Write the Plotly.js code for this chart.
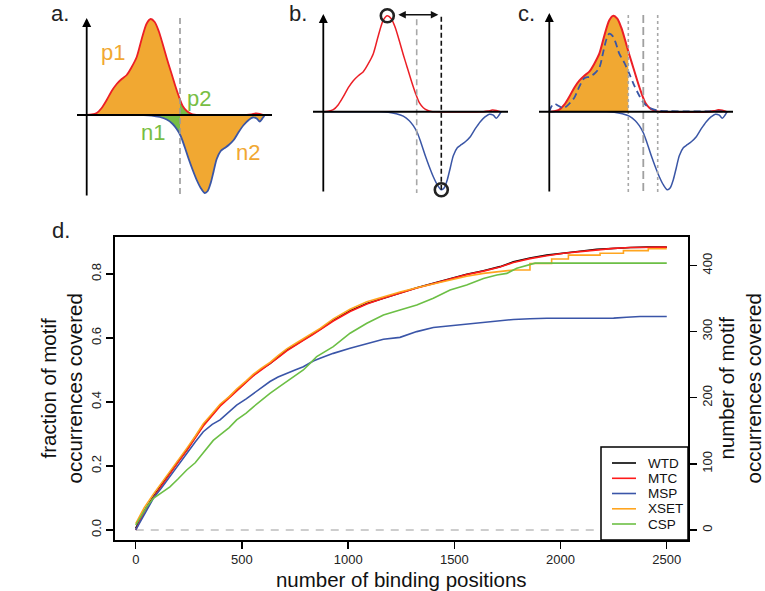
<!DOCTYPE html>
<html><head><meta charset="utf-8">
<script src="https://cdn.plot.ly/plotly-3.0.1.min.js"></script>
<style>html,body{margin:0;padding:0;background:#fff}#chart{width:765px;height:591px}</style>
</head><body><div id="chart"></div>
<script>
// ---------- panels a-c : schematic read-count profiles (units: px-like) ----------
const schemRedX  = [0,5,10,15,20,25,30,35,40,45,50,55,60,64,68,72,76,80,84,88,92,96,100,104,108,112,160,165,169,173,177];
const schemRedY  = [0,0.5,2,7,15,24,31,36,40,48,58,76,91.5,96,93,84,71,57,44,31,19,9,4,1.5,0.3,0,0,0.6,1.6,1.2,0];
const schemBlueX = [0,50,57,65,73,80,86,90,94,98,102,106,110,114,118,121,124,127,130,134,138,142,147,152,157,162,166,170,173,176,178];
const schemBlueY = [0,0,0,-0.5,-2,-4.5,-9,-14,-21,-32,-44,-55,-65,-73,-78,-76,-68,-56,-44,-36,-33,-30,-25,-17,-10,-5,-2.5,-3.5,-6.5,-3,0];
const schemPredX = [0,2,5,9,14,20,25,30,35,40,45,50,54,57,60,63,66,70,75,80,85,90,95,100,105,110,120,140,160,175];
const schemPredY = [0,5,8,6,3.5,8,14,25,33.5,35,38,44,60,72,78,76,70,58,49,38,26,16,8,4,2,1,0.5,0.3,0.3,0.3];
const cutA = [93.3];
const cutB = [93.4];
const cutC = [79, 94, 108.4];

// ---------- panel d : coverage curves ----------
const seriesNames = ['WTD','MTC','MSP','XSET','CSP'];
const wtdX = [0,40,83,120,161,200,240,280,318,360,397,440,475,520,554,590,632,670,711,750,789,830,868,930,1009,1088,1166,1244,1323,1401,1480,1558,1637,1715,1778,1856,1935,2014,2092,2170,2249,2330,2406,2500];
const wtdY = [0.005,0.06,0.104,0.14,0.177,0.215,0.25,0.29,0.328,0.36,0.39,0.415,0.437,0.463,0.484,0.502,0.52,0.54,0.562,0.578,0.594,0.61,0.627,0.655,0.685,0.708,0.725,0.742,0.757,0.771,0.786,0.799,0.81,0.823,0.838,0.85,0.859,0.866,0.871,0.877,0.881,0.883,0.884,0.884];
const mtcX = wtdX;
const mtcY = [0.0,0.058,0.102,0.138,0.176,0.212,0.248,0.287,0.325,0.358,0.387,0.413,0.435,0.461,0.482,0.5,0.519,0.539,0.56,0.577,0.593,0.609,0.625,0.653,0.683,0.706,0.724,0.741,0.756,0.77,0.785,0.798,0.809,0.822,0.836,0.848,0.857,0.865,0.87,0.876,0.88,0.883,0.884,0.884];
const mspX = [0,40,83,120,161,200,240,280,318,360,397,440,475,520,554,590,632,670,711,750,789,836,868,930,1009,1088,1166,1244,1323,1401,1480,1558,1637,1715,1778,1856,1935,2092,2250,2311,2374,2500];
const mspY = [0.0,0.05,0.099,0.13,0.167,0.205,0.24,0.275,0.307,0.33,0.344,0.37,0.39,0.41,0.427,0.445,0.464,0.478,0.49,0.5,0.51,0.528,0.537,0.552,0.568,0.583,0.596,0.602,0.62,0.633,0.638,0.644,0.65,0.654,0.658,0.66,0.6615,0.6615,0.662,0.665,0.667,0.667];
const xsetX = [0,40,83,120,161,200,240,280,318,360,397,440,475,520,554,590,632,670,711,750,789,830,868,930,1009,1088,1166,1244,1323,1401,1480,1558,1637,1715,1778,1856,1856,1958,1958,2037,2037,2186,2186,2296,2296,2413,2413,2500];
const xsetY = [0.02,0.07,0.112,0.145,0.182,0.22,0.255,0.293,0.332,0.364,0.393,0.417,0.44,0.466,0.487,0.505,0.524,0.545,0.566,0.582,0.597,0.614,0.63,0.66,0.69,0.713,0.729,0.744,0.757,0.769,0.781,0.793,0.802,0.808,0.8125,0.8125,0.833,0.833,0.847,0.847,0.859,0.859,0.865,0.865,0.873,0.873,0.879,0.879];
const cspX = [0,25,52,83,130,161,200,240,280,318,365,397,440,475,520,554,590,632,670,711,750,789,836,852,930,1009,1088,1166,1244,1323,1401,1480,1558,1637,1700,1747,1794,1856,1880,2500];
const cspY = [0.015,0.045,0.073,0.099,0.12,0.135,0.16,0.1875,0.21,0.24,0.28,0.297,0.32,0.344,0.365,0.385,0.405,0.427,0.445,0.464,0.48,0.5,0.531,0.542,0.573,0.615,0.646,0.672,0.6875,0.703,0.724,0.75,0.766,0.786,0.797,0.802,0.818,0.831,0.834,0.834];
const xTicks = [0,500,1000,1500,2000,2500];
const yTicks = [0,0.2,0.4,0.6,0.8];
const yTickText = ['0.0','0.2','0.4','0.6','0.8'];
const y2Ticks = [0,100,200,300,400];
const totalMotifs = 484;

// ---------- styling ----------
const W = 765, H = 591;
const FONT = 'Liberation Sans, Arial, Helvetica, sans-serif';
const C = {red:'#EC1F26', blue:'#3A56A6', orange:'#F1A832', green:'#78BE43', gray:'#9A9A9A'};
const lineCols = ['#000000','#FF1A1A','#3A55A8','#FFA51F','#6CBF45'];
const px = v => v / W, py = v => 1 - v / H;

function yAt(xs, ys, x){
  for (let i = 1; i < xs.length; i++) if (x <= xs[i]) { const t = (x - xs[i-1]) / (xs[i] - xs[i-1]); return ys[i-1] + t * (ys[i] - ys[i-1]); }
  return ys[ys.length-1];
}
function clip(xs, ys, lo, hi){
  const a = Math.max(lo, xs[0]), b = Math.min(hi, xs[xs.length-1]);
  const ox = [a], oy = [yAt(xs, ys, a)];
  xs.forEach((x, i) => { if (x > a && x < b) { ox.push(x); oy.push(ys[i]); } });
  ox.push(b); oy.push(yAt(xs, ys, b));
  return {x: ox, y: oy};
}
function fillTrace(seg, color, xa, ya){
  return {x: seg.x, y: seg.y, xaxis: xa, yaxis: ya, type: 'scatter', mode: 'lines', fill: 'tozeroy',
          fillcolor: color, line: {width: 0, shape: 'spline', smoothing: 0.8}, hoverinfo: 'skip'};
}
function curve(xs, ys, color, xa, ya, dash, w){
  return {x: xs, y: ys, xaxis: xa, yaxis: ya, type: 'scatter', mode: 'lines',
          line: {color: color, width: w || 1.8, shape: 'spline', smoothing: 0.8, dash: dash || 'solid'}, hoverinfo: 'skip'};
}

const traces = [];
const shapes = [];
const annotations = [];

// panel geometry: origin px (axis crossing) per panel
const panels = [
  {xa: 'x2', ya: 'y3', ox: 86.7, oy: 115, x0: 70, x1: 280, yTop: 97, yBot: -82, xl: -9.7, xr: 185.3},
  {xa: 'x3', ya: 'y4', ox: 323.3, oy: 111.7, x0: 300, x1: 515, yTop: 97.7, yBot: -81.3, xl: -10.3, xr: 184.7},
  {xa: 'x4', ya: 'y5', ox: 549.3, oy: 111.7, x0: 530, x1: 745, yTop: 98.7, yBot: -81.3, xl: -10.3, xr: 183.7}
];
const layoutAxes = {};
panels.forEach((p, i) => {
  const xn = 'xaxis' + (i + 2), yn = 'yaxis' + (i + 3);
  layoutAxes[xn] = {domain: [px(p.x0), px(p.x1)], range: [p.x0 - p.ox, p.x1 - p.ox], visible: false, anchor: p.ya, fixedrange: true};
  layoutAxes[yn] = {domain: [py(205), py(5)], range: [p.oy - 205, p.oy - 5], visible: false, anchor: p.xa, fixedrange: true};
});

// --- panel a ---
{
  const p = panels[0], c = cutA[0];
  traces.push(fillTrace(clip(schemRedX, schemRedY, -1e9, c), C.orange, p.xa, p.ya));
  traces.push(fillTrace(clip(schemRedX, schemRedY, c, 120), C.green, p.xa, p.ya));
  traces.push(fillTrace(clip(schemBlueX, schemBlueY, 40, c), C.green, p.xa, p.ya));
  traces.push(fillTrace(clip(schemBlueX, schemBlueY, c, 1e9), C.orange, p.xa, p.ya));
  traces.push(curve(schemRedX, schemRedY, C.red, p.xa, p.ya));
  traces.push(curve(schemBlueX, schemBlueY, C.blue, p.xa, p.ya));
  shapes.push({type: 'line', xref: p.xa, yref: p.ya, x0: c, x1: c, y0: p.yTop, y1: p.yBot, line: {color: C.gray, width: 1.6, dash: '6px,4px'}});
  const lab = (t, x, y, col) => annotations.push({xref: p.xa, yref: p.ya, x: x, y: y, text: t, showarrow: false, font: {family: FONT, size: 22, color: col}});
  lab('p1', 26.7, 62, C.orange); lab('p2', 112.5, 16, C.green); lab('n1', 66.7, -18, C.green); lab('n2', 161, -38, C.orange);
}
// --- panel b ---
{
  const p = panels[1];
  traces.push(curve(schemRedX, schemRedY, C.red, p.xa, p.ya, 'solid', 1.5));
  traces.push(curve(schemBlueX, schemBlueY, C.blue, p.xa, p.ya, 'solid', 1.5));
  const iMax = schemRedY.indexOf(Math.max(...schemRedY));
  const iMin = schemBlueY.indexOf(Math.min(...schemBlueY));
  const pkx = schemRedX[iMax], pky = schemRedY[iMax], mnx = schemBlueX[iMin], mny = schemBlueY[iMin];
  const r = 6.5;
  shapes.push({type: 'line', xref: p.xa, yref: p.ya, x0: cutB[0], x1: cutB[0], y0: 92.4, y1: p.yBot, line: {color: '#A8A8A8', width: 1.6, dash: '6px,4px'}});
  shapes.push({type: 'line', xref: p.xa, yref: p.ya, x0: mnx, x1: mnx, y0: mny, y1: pky + 1, line: {color: '#111', width: 1.6, dash: '5px,3px'}});
  shapes.push({type: 'circle', xref: p.xa, yref: p.ya, x0: pkx - r, x1: pkx + r, y0: pky - r, y1: pky + r, line: {color: '#222', width: 2.6}});
  shapes.push({type: 'circle', xref: p.xa, yref: p.ya, x0: mnx - r, x1: mnx + r, y0: mny - r, y1: mny + r, line: {color: '#222', width: 2.6}});
  annotations.push({xref: p.xa, yref: p.ya, axref: p.xa, ayref: p.ya, x: mnx - 3, y: pky + 1, ax: pkx + r + 3, ay: pky + 1,
    text: '', showarrow: true, arrowhead: 2, startarrowhead: 2, arrowside: 'end+start', arrowsize: 1, arrowwidth: 1.5, arrowcolor: '#111'});
}
// --- panel c ---
{
  const p = panels[2];
  traces.push(fillTrace(clip(schemRedX, schemRedY, -1e9, cutC[0]), C.orange, p.xa, p.ya));
  traces.push(curve(schemRedX, schemRedY, C.red, p.xa, p.ya, 'solid', 2));
  traces.push(curve(schemBlueX, schemBlueY, C.blue, p.xa, p.ya, 'solid', 1.5));
  traces.push(curve(schemPredX, schemPredY, C.blue, p.xa, p.ya, '7px,4px', 1.8));
  shapes.push({type: 'line', xref: p.xa, yref: p.ya, x0: cutC[0], x1: cutC[0], y0: 96.7, y1: p.yBot, line: {color: '#A8A8A8', width: 1.6, dash: '3px,3px'}});
  shapes.push({type: 'line', xref: p.xa, yref: p.ya, x0: cutC[1], x1: cutC[1], y0: 96.7, y1: p.yBot, line: {color: '#A0A0A0', width: 1.8, dash: '8px,4px'}});
  shapes.push({type: 'line', xref: p.xa, yref: p.ya, x0: cutC[2], x1: cutC[2], y0: 96.7, y1: p.yBot, line: {color: '#A8A8A8', width: 1.6, dash: '3px,3px'}});
}
// axes of the schematic panels
panels.forEach(p => {
  shapes.push({type: 'line', xref: p.xa, yref: p.ya, x0: p.xl, x1: p.xr, y0: 0, y1: 0, line: {color: '#000', width: 2}});
  annotations.push({xref: p.xa, yref: p.ya, axref: p.xa, ayref: p.ya, x: 0, y: p.yTop, ax: 0, ay: p.yBot,
    text: '', showarrow: true, arrowhead: 2, arrowsize: 1, arrowwidth: 1.8, arrowcolor: '#000'});
});
// panel letters
[['a.', 59.5, 13.4], ['b.', 298, 13.4], ['c.', 526, 13.4], ['d.', 61, 230.7]].forEach(l =>
  annotations.push({xref: 'paper', yref: 'paper', x: px(l[1]), y: py(l[2]), text: l[0], showarrow: false,
    xanchor: 'center', yanchor: 'middle', font: {family: FONT, size: 22, color: '#222'}}));

// ---------- panel d traces ----------
const dX = [wtdX, mtcX, mspX, xsetX, cspX];
const dY = [wtdY, mtcY, mspY, xsetY, cspY];
seriesNames.forEach((n, i) => traces.push({x: dX[i], y: dY[i], name: n, type: 'scatter', mode: 'lines',
  xaxis: 'x', yaxis: 'y', line: {color: lineCols[i], width: 1.6}, hoverinfo: 'skip'}));
// same WTD curve expressed as motif counts on the right-hand axis (invisible, it only carries that axis)
traces.push({x: wtdX, y: wtdY.map(v => v * totalMotifs), name: 'WTD count', type: 'scatter', mode: 'lines',
  xaxis: 'x', yaxis: 'y2', line: {color: 'rgba(0,0,0,0)', width: 0}, hoverinfo: 'skip', showlegend: false});

const yR = [-0.0313, 0.9166];
shapes.unshift({type: 'line', xref: 'x', yref: 'y', x0: xTicks[0], x1: xTicks[xTicks.length-1], y0: 0, y1: 0,
  line: {color: '#BDBDBD', width: 1.6, dash: '8px,7px'}, layer: 'below'});

// manual compact legend (R style)
const lg = {x0: 601, x1: 688, y0: 447, y1: 540, rows: [463, 478.3, 493.5, 508.8, 524]};
shapes.push({type: 'rect', xref: 'paper', yref: 'paper', x0: px(lg.x0), x1: px(lg.x1), y0: py(lg.y1), y1: py(lg.y0),
  fillcolor: '#fff', line: {color: '#000', width: 1.5}});
seriesNames.forEach((n, i) => {
  shapes.push({type: 'line', xref: 'paper', yref: 'paper', x0: px(612), x1: px(636), y0: py(lg.rows[i]), y1: py(lg.rows[i]),
    line: {color: lineCols[i], width: 1.6}});
  annotations.push({xref: 'paper', yref: 'paper', x: px(646), y: py(lg.rows[i]), xanchor: 'left', yanchor: 'middle',
    text: n, showarrow: false, font: {family: FONT, size: 13.5, color: '#111'}});
});

const tickStyle = {ticks: 'outside', ticklen: 7, tickwidth: 1.3, tickcolor: '#000', showgrid: false, zeroline: false,
  showline: true, linecolor: '#000', linewidth: 1.5, tickfont: {family: FONT, size: 13, color: '#222'}, fixedrange: true};

const layout = Object.assign({
  width: W, height: H, margin: {l: 0, r: 0, t: 0, b: 0}, paper_bgcolor: '#fff', plot_bgcolor: 'rgba(0,0,0,0)',
  showlegend: false, font: {family: FONT, color: '#111'},
  xaxis: Object.assign({}, tickStyle, {domain: [px(114.5), px(688)], range: [-100, 2600], tickvals: xTicks, anchor: 'y', mirror: true,
    title: {text: 'number of binding positions', font: {family: FONT, size: 20.5, color: '#111'}, standoff: 6}, automargin: false}),
  yaxis: Object.assign({}, tickStyle, {domain: [py(540), py(236.7)], range: yR, tickvals: yTicks, ticktext: yTickText, tickangle: -90, anchor: 'x', mirror: true,
    title: {text: 'fraction of motif<br>occurrences covered', font: {family: FONT, size: 20.5, color: '#111'}, standoff: 0}, automargin: false}),
  yaxis2: Object.assign({}, tickStyle, {overlaying: 'y', side: 'right', anchor: 'x', range: [yR[0] * totalMotifs, yR[1] * totalMotifs],
    tickvals: y2Ticks, tickangle: -90,
    title: {text: 'number of motif<br>occurrences covered', font: {family: FONT, size: 20.5, color: '#111'}, standoff: 4}, automargin: false}),
  shapes: shapes, annotations: annotations
}, layoutAxes);

Plotly.newPlot('chart', traces, layout, {staticPlot: true, displayModeBar: false});
</script></body></html>
